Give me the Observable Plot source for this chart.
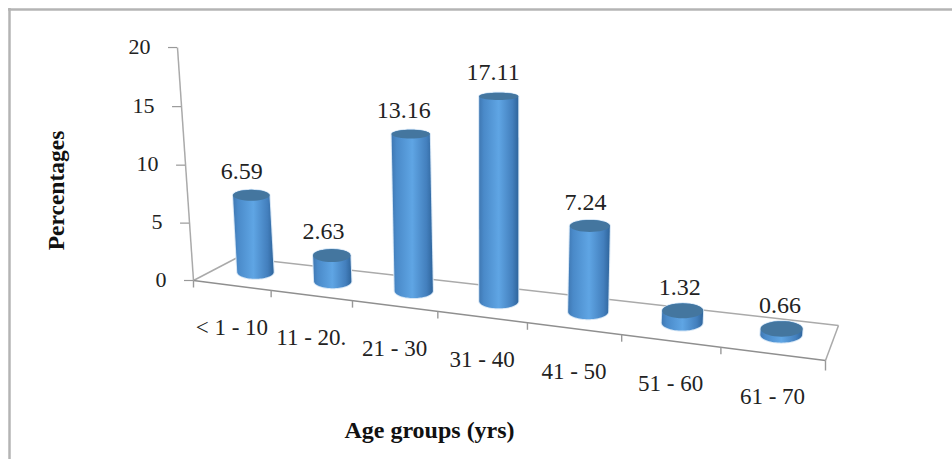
<!DOCTYPE html>
<html><head><meta charset="utf-8">
<style>html,body{margin:0;padding:0;background:#fff}svg{display:block}</style>
<script src="https://cdn.jsdelivr.net/npm/d3@7"></script>
<script src="https://cdn.jsdelivr.net/npm/@observablehq/plot@0.6"></script>
</head><body>
<div id="chart"></div>
<script>
const categories = ["< 1 - 10", "11 - 20.", "21 - 30", "31 - 40", "41 - 50", "51 - 60", "61 - 70"];
const values = [6.59, 2.63, 13.16, 17.11, 7.24, 1.32, 0.66];
const valueTicks = [0, 5, 10, 15, 20];
const yTitle = "Percentages";
const xTitle = "Age groups (yrs)";

// Perspective projection of the 3-D chart box onto the page.
const n = categories.length;
const persp = s => { const t = s / n; return t / (t + 1.19 * (1 - t)); };
const front = s => { const f = persp(s); return [193 + 632 * f, 280 + 80 * f]; };
const back = s => { const f = persp(s); return [237 + 601 * f, 257 + 68 * f]; };
const wallH = v => v * 11.42 * (1 + v * 0.001);
const barH = v => wallH(v) * (0.75 + 0.28 * Math.min(1, v / 7));
const project = (s, depth, h) => {
  const a = front(s), b = back(s);
  const x = a[0] + (b[0] - a[0]) * depth, y = a[1] + (b[1] - a[1]) * depth;
  return [x + h * (x - 500) * 0.000224, y - h];
};
const BAR_DEPTH = 0.56;

// Cylinder outlines, built from the projection.
const ry = y => 3.6 + (y - 90) * 0.0175;
const rx = i => 18.2 + i * 0.45;
const ellipse = (c, rX, rY, from, to) =>
  d3.range(0, 37).map(k => {
    const a = from + (to - from) * k / 36;
    return [c[0] + rX * Math.cos(a), c[1] + rY * Math.sin(a)];
  });
const bodies = [], tops = [], halos = [];
values.forEach((v, i) => {
  const b = project(i + 0.5, BAR_DEPTH, 0), t = project(i + 0.5, BAR_DEPTH, barH(v));
  const r = rx(i);
  const lower = ellipse(b, r, ry(b[1]), Math.PI, 0);
  const upper = ellipse(t, r, ry(t[1]), 0, -Math.PI);
  [...lower, ...upper].forEach(p => bodies.push({i, px: p[0], py: p[1]}));
  ellipse(b, r + 1, ry(b[1]) + 1, Math.PI, 0)
    .concat(ellipse(t, r + 1, ry(t[1]) + 1, 0, -Math.PI))
    .forEach(p => halos.push({i, px: p[0], py: p[1]}));
  ellipse(t, r, ry(t[1]), 0, 2 * Math.PI).forEach(p => tops.push({i, px: p[0], py: p[1]}));
});

const boundaries = d3.range(0, n + 1);
const xTicks = boundaries.map(s => { const p = front(s); return {x1: p[0], y1: p[1], x2: p[0], y2: p[1] + (s === n ? 10 : 7)}; });
const yTicks = valueTicks.map(v => { const p = project(0, 0, wallH(v)); return {v, x: p[0], y: p[1]}; });
const catLabels = categories.map((c, i) => { const p = front(i + 0.5); return {c, x: p[0], y: p[1] + 42.5}; });
const valLabels = values.map((v, i) => { const p = project(i + 0.5, BAR_DEPTH, barH(v)); return {v: v.toFixed(2), x: p[0] - 9.5 + i * 1.3, y: p[1] - 24}; });

const seg = (a, b) => ({x1: a[0], y1: a[1], x2: b[0], y2: b[1]});
const edgesLight = [seg(project(0,0,0), project(0,0,wallH(20))), seg(front(0), back(0)), seg(back(0), back(n)), seg(front(n), back(n))];
const edgesDark = [seg(front(0), front(n))];

const defs = () => {
  const ns = "http://www.w3.org/2000/svg";
  const d = document.createElementNS(ns, "defs");
  d.innerHTML = `<linearGradient id="cyl" x1="0" x2="1" y1="0" y2="0">
    <stop offset="0" stop-color="#3f78b3"/><stop offset="0.12" stop-color="#4a8ac9"/>
    <stop offset="0.5" stop-color="#5fa5e4"/><stop offset="0.85" stop-color="#437fbd"/>
    <stop offset="1" stop-color="#2f659c"/></linearGradient>`;
  return d;
};
const serif = "Liberation Serif, Times New Roman, serif";

const plot = Plot.plot({
  width: 952, height: 459, margin: 0,
  x: {domain: [0, 952], range: [0, 952], axis: null},
  y: {domain: [0, 459], range: [0, 459], axis: null},
  style: {background: "#fff", fontFamily: serif},
  marks: [
    defs,
    Plot.ruleY([9], {x1: 8, x2: 952, stroke: "#b4b4b4", strokeWidth: 2.5}),
    Plot.ruleX([9], {y1: 8, y2: 459, stroke: "#b4b4b4", strokeWidth: 2.5}),
    Plot.link(edgesLight, {x1: "x1", y1: "y1", x2: "x2", y2: "y2", stroke: "#aaa", strokeWidth: 1.5}),
    Plot.link(edgesDark, {x1: "x1", y1: "y1", x2: "x2", y2: "y2", stroke: "#8f8f8f", strokeWidth: 1.5}),
    Plot.link(xTicks, {x1: "x1", y1: "y1", x2: "x2", y2: "y2", stroke: "#999", strokeWidth: 1.4}),
    Plot.ruleY(yTicks, {y: "y", x1: d => d.x - 9, x2: "x", stroke: "#999", strokeWidth: 1.2}),
    Plot.text(yTicks, {x: "x", y: "y", text: d => String(d.v), dx: -27, dy: -1, textAnchor: "end", fontSize: 22, fill: "#222"}),
    Plot.line(halos, {x: "px", y: "py", z: "i", fill: "#d6e6f5", stroke: "none", curve: "linear"}),
    Plot.line(bodies, {x: "px", y: "py", z: "i", fill: "url(#cyl)", stroke: "none", curve: "linear"}),
    Plot.line(tops, {x: "px", y: "py", z: "i", fill: "#44769f", stroke: "none", curve: "linear"}),
    Plot.text(valLabels, {x: "x", y: "y", text: "v", fontSize: 24, fill: "#222"}),
    Plot.text(catLabels, {x: "x", y: "y", text: "c", fontSize: 23, fill: "#222"}),
    Plot.text([xTitle], {x: () => 429, y: () => 430, fontSize: 24, fontWeight: "bold", fill: "#111"}),
    Plot.text([yTitle], {x: () => 56, y: () => 190, rotate: -90, fontSize: 23.5, fontWeight: "bold", fill: "#111"})
  ]
});
document.getElementById("chart").append(plot);
</script>
</body></html>
